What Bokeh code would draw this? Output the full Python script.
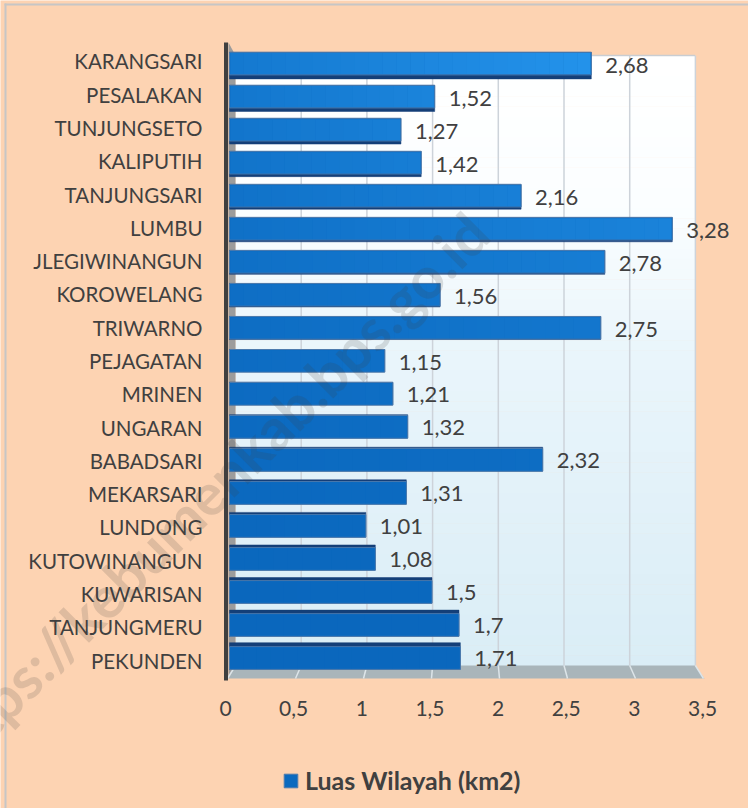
from bokeh.plotting import figure
from bokeh.models import (Range1d, LinearAxis, FixedTicker, ColumnDataSource, Label,
                          Legend, LegendItem, BoxAnnotation)
from bokeh.embed import file_html
from bokeh.resources import INLINE

categories = ["KARANGSARI", "PESALAKAN", "TUNJUNGSETO", "KALIPUTIH", "TANJUNGSARI", "LUMBU",
              "JLEGIWINANGUN", "KOROWELANG", "TRIWARNO", "PEJAGATAN", "MRINEN", "UNGARAN",
              "BABADSARI", "MEKARSARI", "LUNDONG", "KUTOWINANGUN", "KUWARISAN",
              "TANJUNGMERU", "PEKUNDEN"]
luas = [2.68, 1.52, 1.27, 1.42, 2.16, 3.28, 2.78, 1.56, 2.75, 1.15, 1.21, 1.32,
        2.32, 1.31, 1.01, 1.08, 1.5, 1.7, 1.71]
x_ticks = [0, 0.5, 1, 1.5, 2, 2.5, 3, 3.5]
x_tick_labels = ["0", "0,5", "1", "1,5", "2", "2,5", "3", "3,5"]
series_name = "Luas Wilayah (km2)"
watermark = "https://kebumenkab.bps.go.id"

PEACH = "#FDD3B2"
TXT = "#404040"
FONT = "Lato"

# the frame fills the whole canvas; axes draw their labels inward
FL, FR, FT, FB = 0, 748, 0, 808
X0, XS = 229, 135          # bars: value 0 pixel, pixels per unit
Y0, YS = 655.5, 32.8       # bars: bottom bar centre, pixels per step


def X(px):
    return (px - X0) / XS


def Y(py):
    return (Y0 - py) / YS


def mix(a, b, t):
    t = max(0.0, min(1.0, t))
    ca = [int(a[k:k + 2], 16) for k in (1, 3, 5)]
    cb = [int(b[k:k + 2], 16) for k in (1, 3, 5)]
    return "#%02x%02x%02x" % tuple(round(p + (q - p) * t) for p, q in zip(ca, cb))


p = figure(width=748, height=808, output_backend="svg", toolbar_location=None,
           x_range=Range1d(X(FL), X(FR)), y_range=Range1d(Y(FB), Y(FT)),
           x_axis_location=None, y_axis_location=None,
           frame_width=FR - FL, frame_height=FB - FT,
           min_border_left=0, min_border_right=0, min_border_top=0, min_border_bottom=0)
p.grid.visible = False
p.outline_line_color = None
p.background_fill_color = PEACH
p.border_fill_color = PEACH

p.extra_x_ranges = {"ticks": Range1d((FL - 225) / 136.3, (FR - 225) / 136.3)}
p.extra_y_ranges = {"cats": Range1d((660 - FB) / 33.28, (660 - FT) / 33.28),
                    "vals": Range1d((658 - FB) / 32.94, (658 - FT) / 32.94)}

xax = LinearAxis(x_range_name="ticks", ticker=FixedTicker(ticks=x_ticks),
                 major_label_overrides=dict(zip(x_ticks, x_tick_labels)),
                 axis_line_color=None, major_tick_line_color=None, minor_tick_line_color=None,
                 major_label_text_font=FONT, major_label_text_font_size="21px",
                 major_label_text_color=TXT, major_label_standoff=-(FB - 694))
p.add_layout(xax, "below")

n = len(categories)
ypos = [n - 1 - i for i in range(n)]
yax = LinearAxis(y_range_name="cats", ticker=FixedTicker(ticks=ypos),
                 major_label_overrides=dict(zip(ypos, categories)),
                 axis_line_color=None, major_tick_line_color=None, minor_tick_line_color=None,
                 major_label_text_font=FONT, major_label_text_font_size="20.5px",
                 major_label_text_color=TXT, major_label_standoff=-208)
p.add_layout(yax, "left")

# back wall with vertical gradient
WL, WR, WT, WB = 235, 694.5, 55, 665
stops = [(55, "#FFFFFF"), (200, "#FBFEFF"), (350, "#E9F5FB"), (665, "#DAEDF6")]
bands = 60
bl, br, bt, bb, bc = [], [], [], [], []
for k in range(bands):
    a = WT + (WB - WT) * k / bands
    b = WT + (WB - WT) * (k + 1) / bands
    col = stops[-1][1]
    for (y1, c1), (y2, c2) in zip(stops, stops[1:]):
        if y1 <= a <= y2:
            col = mix(c1, c2, (a - y1) / (y2 - y1))
            break
    bl.append(X(WL)); br.append(X(WR)); bt.append(Y(a)); bb.append(Y(b + 0.5)); bc.append(col)
p.quad(left=bl, right=br, top=bt, bottom=bb, fill_color=bc, line_color=None)


def back_x(v):
    return X(235 + 131.4 * v)


def front_x(v):
    return X(227 + 136 * v)


# side wall and floor
p.patch([X(228), X(235), X(235), X(228)], [Y(42), Y(55), Y(665), Y(678)],
        fill_color="#9C9C9C", line_color=None)
p.patch([X(228), X(704), X(694.5), X(235)], [Y(678), Y(678), Y(665), Y(665)],
        fill_color="#A9B5BA", line_color=None)

# wall grid lines, top edge and floor ticks
grid_vals = x_ticks[1:]
p.segment([back_x(v) for v in grid_vals], Y(WT), [back_x(v) for v in grid_vals], Y(WB),
          line_color="#CDD3DA", line_width=1.5)
p.line([X(WL), X(WR)], [Y(WT), Y(WT)], line_color="#C9CDD2", line_width=1.5)
p.segment([back_x(v) for v in x_ticks], Y(WB), [front_x(v) for v in x_ticks], Y(678),
          line_color="#DDE5E9", line_width=1.5)

# dark axis wall edge
p.line([X(225.5), X(225.5)], [Y(42), Y(680)], line_color="#404040", line_width=4)

# bars
MID = (n - 1) / 2
FACE = 22.6
tot_h, face_c = [], []
for y in ypos:
    extra = abs(y - MID) / MID * 4
    tot_h.append((FACE + extra) / YS)
    sign = 1 if y > MID else -1
    face_c.append(y + sign * extra / 2 / YS)

p.hbar(y=ypos, left=0, right=luas, height=tot_h, fill_color="#143F78",
       line_color="#143F78", line_width=0.5)
src = ColumnDataSource(dict(y=face_c, right=luas))
face = p.hbar(y="y", left=0, right="right", height=FACE / YS, source=src,
              fill_color="#0B6ABF", line_color="#4C7BAE", line_width=1)

sl, sr, st, sb, sc = [], [], [], [], []
for y, fc, v in zip(ypos, face_c, luas):
    py = Y0 - y * YS
    steps = max(1, int(v * 10))
    for k in range(steps):
        a = v * k / steps
        b = v * (k + 1) / steps
        t = ((660 - py) / 600) ** 1.8 * (0.4 + 0.6 * (a * XS) / 360)
        sl.append(a + 0.8 / XS if k == 0 else a)
        sr.append(b - 0.8 / XS if k == steps - 1 else b + 0.3 / XS)
        st.append(fc + (FACE / 2 - 0.8) / YS)
        sb.append(fc - (FACE / 2 - 0.8) / YS)
        sc.append(mix("#0A67BD", "#2494EC", t))
p.quad(left=sl, right=sr, top=st, bottom=sb, fill_color=sc, line_color=None)

# value labels
vals_txt = [("%g" % v).replace(".", ",") for v in luas]
p.text(x=luas, y=ypos, text=vals_txt, y_range_name="vals", x_offset=14,
       text_align="left", text_baseline="middle", text_font_size="22px",
       text_color=TXT, text_font={"value": FONT})

# legend
leg = Legend(items=[LegendItem(label=series_name, renderers=[face])],
             location=(282, FB - 795), orientation="horizontal",
             padding=0, margin=0, spacing=0, glyph_width=17, glyph_height=17,
             label_standoff=6, background_fill_alpha=0, border_line_color=None,
             label_text_font=FONT, label_text_font_style="bold",
             label_text_font_size="25px", label_text_color=TXT)
p.add_layout(leg, "center")

# chart-area border
for l, r, t, b in [(4, 6, 3, 808), (4, 748, 3, 5)]:
    p.add_layout(BoxAnnotation(left=X(l), right=X(r), top=Y(t), bottom=Y(b),
                               fill_color="#C6C6C6", fill_alpha=1, line_color=None))

# watermark
p.add_layout(Label(x=X(477), y=Y(222), text=watermark, angle=45, angle_units="deg",
                   text_align="right", text_baseline="middle", text_font=FONT,
                   text_font_style="bold", text_font_size="58px", text_color="#404040",
                   text_alpha=0.16))

open("out.html", "w").write(file_html(p, INLINE))
